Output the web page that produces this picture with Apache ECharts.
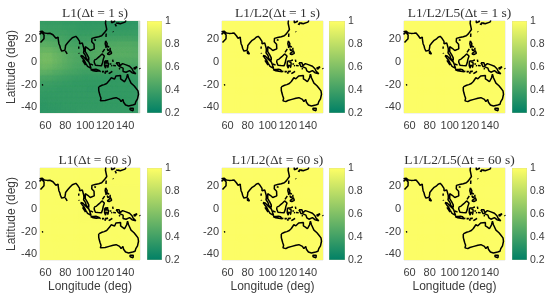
<!DOCTYPE html>
<html><head><meta charset="utf-8">
<style>html,body{margin:0;padding:0;background:#fff}#c{width:550px;height:298px;filter:blur(0.5px)}</style>
<script src="https://cdn.jsdelivr.net/npm/echarts@6/dist/echarts.min.js"></script>
</head><body><div id="c"></div>
<script>
const titles = ['L1(Δt = 1 s)','L1/L2(Δt = 1 s)','L1/L2/L5(Δt = 1 s)','L1(Δt = 60 s)','L1/L2(Δt = 60 s)','L1/L2/L5(Δt = 60 s)'];
const lonTicks = [60,80,100,120,140];
const latTicks = [-40,-20,0,20];
const barTicks = [0.2,0.4,0.6,0.8,1];
const summerColors = ['#008066','#ffff66'];

const field1 = [
[.38,.38,.38,.38,.38,.37,.37,.37,.37,.36,.36,.36,.36,.36,.35,.35,.35,.35,.35,.35],
[.39,.39,.39,.39,.39,.38,.38,.38,.37,.37,.37,.37,.37,.37,.36,.36,.36,.36,.36,.36],
[.41,.41,.41,.40,.40,.40,.39,.39,.38,.38,.38,.39,.39,.39,.38,.38,.38,.38,.38,.38],
[.44,.44,.44,.43,.43,.42,.41,.40,.40,.40,.40,.41,.41,.41,.41,.41,.41,.41,.41,.40],
[.48,.49,.48,.47,.45,.44,.43,.42,.42,.42,.43,.44,.45,.45,.45,.45,.46,.46,.46,.45],
[.52,.53,.53,.51,.49,.47,.45,.44,.44,.44,.45,.46,.47,.47,.48,.48,.48,.48,.48,.47],
[.55,.57,.57,.54,.52,.50,.47,.46,.45,.45,.46,.47,.48,.48,.49,.49,.49,.49,.49,.48],
[.56,.58,.58,.55,.53,.50,.48,.46,.45,.45,.45,.46,.46,.46,.47,.47,.47,.47,.47,.46],
[.54,.56,.55,.53,.51,.49,.47,.45,.44,.44,.43,.43,.43,.44,.44,.44,.44,.44,.44,.43],
[.50,.51,.50,.48,.47,.45,.44,.43,.42,.41,.41,.41,.41,.41,.41,.41,.41,.41,.41,.40],
[.44,.44,.44,.43,.42,.41,.40,.39,.39,.38,.38,.38,.38,.38,.38,.38,.38,.38,.38,.38],
[.40,.40,.40,.39,.39,.38,.38,.37,.37,.37,.37,.37,.37,.37,.37,.37,.37,.37,.37,.37],
[.38,.38,.38,.38,.37,.37,.37,.37,.37,.37,.36,.36,.37,.37,.37,.37,.37,.37,.37,.37],
[.37,.37,.37,.37,.37,.37,.37,.37,.37,.37,.37,.37,.37,.37,.37,.37,.37,.37,.37,.37],
[.36,.36,.37,.37,.37,.37,.37,.37,.37,.37,.37,.37,.37,.37,.37,.37,.37,.37,.37,.37],
[.35,.35,.36,.36,.36,.37,.37,.37,.37,.37,.37,.37,.37,.37,.37,.37,.37,.37,.37,.37],
[.34,.35,.35,.35,.36,.36,.36,.36,.37,.37,.37,.37,.37,.37,.37,.37,.37,.37,.37,.37]
];
const field2 = [[.99,.99,.99,.99,.99],[.99,.99,.99,.99,.99],[.99,.99,.99,.99,.99],[.99,.99,.99,.99,.99],[.99,.99,.99,.99,.99]];
const field3 = [[.99,.99,.99,.99,.99],[.99,.99,.99,.99,.99],[.99,.99,.99,.99,.99],[.99,.99,.99,.99,.99],[.99,.99,.99,.99,.99]];
const field4 = [
[.985,.985,.985,.985,.985],
[.985,.985,.98,.98,.98],
[.985,.985,.98,.98,.98],
[.985,.985,.985,.985,.985],
[.985,.985,.985,.985,.985]
];
const field5 = [[.99,.99,.99,.99,.99],[.99,.99,.99,.99,.99],[.99,.99,.99,.99,.99],[.99,.99,.99,.99,.99],[.99,.99,.99,.99,.99]];
const field6 = [[.99,.99,.99,.99,.99],[.99,.99,.99,.99,.99],[.99,.99,.99,.99,.99],[.99,.99,.99,.99,.99],[.99,.99,.99,.99,.99]];
const fields = [field1,field2,field3,field4,field5,field6];

const asiaCoast = [[54,26.6],[55.5,26.8],[56.5,27.1],[57,26],[57.3,25.7],[59,25.4],[61.5,25.1],[64.5,25.2],[66.5,25.4],[67.5,23.9],[68.8,23],[69,22.3],[70.5,20.8],[72.2,21],[72.7,21.8],[72.8,20],[72.9,18.9],[73.5,16],[74.5,14],[75,12],[76.3,9.5],[77.5,8.1],[78.2,9],[79.5,10.3],[80,12.5],[80.2,14.5],[81,16],[82.3,16.8],[84.5,19],[86.5,20],[87,21.3],[88.5,21.7],[90.5,22.5],[91.8,22.4],[92.5,20.5],[94.3,18],[94.3,16],[95.5,15.8],[97,16.7],[97.7,15],[98.5,12],[98.6,10],[98.3,8],[99.5,6.5],[100.3,5.5],[101,3],[103.5,1.3],[104.2,1.4],[103.5,3.5],[103.4,5],[102,6.2],[100.8,7],[100,9],[99.3,10.5],[100,13.4],[101,12.7],[102.5,12],[103.5,10.6],[105,10],[104.8,8.7],[106.7,10],[109,11.5],[109.3,13],[108.8,15.5],[106.5,17.7],[105.7,19],[106.7,20.7],[108.2,21.6],[109.8,21.4],[110.4,20.4],[110.5,21.2],[113.5,22.2],[116.5,23],[118.5,24.7],[120,26.5],[121.6,28.5],[122,30],[121,31],[121.8,31.7],[120.3,34],[119.3,35],[120.5,36],[121,36.5]];
const omanCoast = [[54,24.2],[55.5,25.4],[56.3,26],[56.4,24.9],[58.6,23.6],[59.8,22.5],[58.5,20.4],[57.8,19],[55,17]];
const mauritius = [[56.4,-20.4],[57.7,-20.2],[58.3,-20.5]];
const sriLanka = [[80,9.7],[81.3,8.5],[81.8,7],[80.6,6],[79.8,7.5],[80,9.7]];
const andaman = [[93.5,13.5],[93.4,11.5]];
const nicobar = [[93.6,8],[93.8,7.2]];
const hainan = [[109,19.5],[110.5,20],[110.8,19],[109.5,18.2],[108.7,18.7],[109,19.5]];
const taiwan = [[121,25],[122,24.6],[120.8,22],[120.1,23.2],[121,25]];
const korea = [[126.3,36.5],[126.5,34.5],[128,34.8],[129.4,35.5],[129.5,36.5]];
const kyushu = [[130,33.4],[131,33.9],[132,33],[131.2,31.3],[130.3,31.3],[130,33.4]];
const honshu = [[131,34.3],[133,34.3],[135.2,33.6],[137,34.6],[140,35],[141,36.5]];
const shikoku = [[132.5,33.8],[134.5,34.3],[134.2,33.4],[133,32.8],[132.5,33.8]];
const ryukyu = [[127.7,26.8],[128.3,26.3]];
const luzon = [[120.5,18.5],[122.2,18.5],[122,16],[121.7,14.2],[124,13],[123,13],[120.7,13.8],[120,16],[120.5,18.5]];
const mindoro = [[120.4,13.4],[121.4,13.2],[121.2,12.3],[120.4,13.4]];
const samar = [[125,12.5],[125.5,11],[125,10],[124.3,11],[125,12.5]];
const panay = [[122,11.8],[123,11],[123,9.5],[122.3,10],[122,11.8]];
const cebu = [[123.4,11.2],[124,10.4],[123.4,9.6],[123.4,11.2]];
const palawan = [[117.2,8.4],[119.5,11.3],[119,10],[117.2,8.4]];
const mindanao = [[122,7],[123.5,8.6],[125.5,9.7],[126.5,7.5],[125.5,5.8],[124,6.5],[122,7]];
const borneo = [[109,1.5],[109.6,2],[111.3,2.5],[113,3.2],[114,4.6],[115.5,5.5],[116.8,7],[117.7,6],[119.2,5.2],[118,4.3],[117.6,3.5],[118,2],[119,1],[117.5,0.5],[117.4,-0.8],[116.5,-1.5],[116.2,-3.5],[114.7,-4.1],[113,-3.2],[111.7,-3.3],[110.2,-2.9],[110,-1.4],[109,-0.3],[109,1.5]];
const sumatra = [[95.3,5.6],[97.5,5.2],[100.3,2.5],[103.5,0],[104.5,-2],[106,-3],[105.8,-5.8],[104.5,-5.8],[102.3,-4],[100.5,-1.2],[98.7,1.7],[97,3.5],[95.3,5.6]];
const nias = [[97.2,1.4],[98,0.6],[99,-1],[100.3,-2.9]];
const bangka = [[105.2,-1.8],[106.7,-3],[107.8,-2.9]];
const java = [[105.3,-6.8],[106.7,-6],[108.5,-6.6],[110.7,-6.5],[112.7,-6.9],[114.5,-7.8],[114.4,-8.7],[111,-8.3],[108,-7.8],[105.3,-6.8]];
const bali = [[114.6,-8.2],[115.6,-8.4],[115.2,-8.8],[114.6,-8.2]];
const sumbawa = [[116.8,-8.5],[119,-8.4],[118.8,-8.8],[116.8,-9],[116.8,-8.5]];
const flores = [[119.9,-8.5],[122.9,-8.2],[122.7,-8.7],[120,-8.9],[119.9,-8.5]];
const sumba = [[119.2,-9.6],[120.8,-10],[119.8,-9.9],[119.2,-9.6]];
const timor = [[123.5,-10.3],[125,-9],[127.2,-8.4],[125,-9.6],[123.5,-10.3]];
const sulawesi = [[119.8,0.8],[120.9,1.3],[123,0.95],[125,1.6],[124.3,0.4],[121,0.45],[120.1,-0.8],[121,-1],[123.3,-0.9],[122,-2],[123,-4.3],[122.5,-5],[121.6,-4.7],[121.5,-3.5],[120.9,-2.7],[120.4,-3],[120.4,-5.5],[119.5,-5.5],[119.4,-3.4],[118.9,-2.7],[119.5,-0.8],[119.8,0.8]];
const muna = [[122.4,-4.5],[123.1,-5.2]];
const halmahera = [[127.5,2],[128,1],[128.7,1.5],[128,0],[127.7,-0.8],[127.5,0.8],[127.5,2]];
const sula = [[124.5,-1.8],[126.2,-1.9]];
const seram = [[128,-3.2],[130.8,-3.4],[129.5,-3.4],[128,-3.2]];
const buru = [[126,-3.2],[127.2,-3.5],[126.2,-3.7],[126,-3.2]];
const tanimbar = [[131.2,-7.6],[131.7,-8]];
const aru = [[134.2,-5.5],[134.7,-6.6]];
const newGuinea = [[131,-0.8],[134,-0.8],[135,-3.3],[137.5,-1.5],[141,-2.6],[144.5,-3.8],[147,-6],[148,-8],[150.8,-10.5],[147,-9.5],[144.5,-7.7],[143,-9],[141,-9.1],[139,-8],[138,-8.4],[138.8,-6.8],[138,-5.5],[135,-4.4],[133,-4],[132.8,-2.8],[134,-2.3],[132,-2.2],[131,-0.8]];
const newBritain = [[148.5,-5.6],[152,-4.2],[152,-5.5],[150,-6.3],[148.5,-5.6]];
const bougainville = [[154.6,-5.5],[155.2,-6.2]];
const australia = [[113.5,-22],[114.2,-22],[116.8,-20.6],[119,-20],[121.5,-19],[122.3,-17.5],[123.5,-17.3],[124.5,-16],[126,-14],[128,-14.9],[129.5,-15],[130.8,-12.4],[132.6,-11.4],[135.5,-12],[136.8,-12.3],[135.5,-15],[137.5,-16],[139.5,-17.5],[140.8,-17.4],[141.6,-14],[141.8,-12.5],[142.5,-10.8],[143.5,-14],[145.3,-15],[146,-18.7],[149,-21],[150.8,-23],[153,-25.5],[153.5,-28.5],[152.5,-32.5],[150.8,-35],[150,-37.3],[147.7,-38],[146.3,-39],[143.5,-38.8],[140.5,-38],[138.5,-35.5],[137.8,-35.3],[137.8,-33],[136,-35],[134.5,-33],[131,-31.5],[128,-32],[124,-33],[123.5,-33.9],[120,-34],[118,-35],[115.2,-34.3],[115.8,-32],[115,-30],[114,-27],[113.5,-25],[113.5,-22]];
const tasmania = [[144.7,-40.8],[148.3,-40.9],[148,-43],[146.5,-43.6],[145.2,-42.2],[144.7,-40.8]];

const coastParts = [asiaCoast,omanCoast,mauritius,sriLanka,andaman,nicobar,hainan,taiwan,korea,kyushu,honshu,shikoku,ryukyu,luzon,mindoro,samar,panay,cebu,palawan,mindanao,borneo,sumatra,nias,bangka,java,bali,sumbawa,flores,sumba,timor,sulawesi,muna,halmahera,sula,seram,buru,tanimbar,aru,newGuinea,newBritain,bougainville,australia,tasmania];
const coast = [];
coastParts.forEach(p=>{p.forEach(q=>coast.push(q));coast.push(['-','-']);});

const LON0=54.5, LON1=155, LAT0=-45, LAT1=36;
const panelX=[[40,140,147,162],[222,323,329,345],[404,505,512,527]];
const panelY=[[21,113],[168,260]];
const cellData = rows => {
  const nr=rows.length,nc=rows[0].length,out=[];
  const dLon=(nc===20?5:(LON1-LON0+1)/nc), dLat=(nr===17?5:(LAT1-LAT0+1)/nr);
  rows.forEach((r,i)=>r.forEach((v,j)=>{
    const lon=nc===20?55+j*5:LON0+dLon*(j+.5), lat=nr===17?35-i*5:LAT1-dLat*(i+.5);
    out.push([lon,lat,v,dLon,dLat]);
  }));
  return out;
};
const sans='"Liberation Sans"', txt='#3c3c3c';
const grid=[],xAxis=[],yAxis=[],series=[],title=[];
fields.forEach((f,k)=>{
  const col=k%3,row=Math.floor(k/3),[x0,x1,b0,b1]=panelX[col],[y0,y1]=panelY[row];
  grid.push({left:x0,width:x1-x0,top:y0,height:y1-y0,show:true,backgroundColor:'transparent',borderColor:'#c8c8b0',borderWidth:.5,containLabel:false});
  grid.push({left:b0,width:b1-b0,top:y0,height:y1-y0,show:false});
  title.push({text:titles[k],left:(x0+x1)/2,textAlign:'center',top:y0-20,textStyle:{fontFamily:'"Liberation Serif"',fontSize:13.5,fontWeight:'normal',color:'#333'}});
  const gi=k*2;
  xAxis.push({gridIndex:gi,type:'value',min:LON0,max:LON1,splitLine:{show:false},axisLine:{show:false},
    axisTick:{show:false,customValues:lonTicks},
    axisLabel:{customValues:lonTicks,color:txt,fontFamily:sans,fontSize:11,margin:7,hideOverlap:false,showMinLabel:true,showMaxLabel:true},
    name:row===1?'Longitude (deg)':'',nameLocation:'middle',nameGap:21,nameTextStyle:{color:txt,fontFamily:sans,fontSize:12}});
  yAxis.push({gridIndex:gi,type:'value',min:LAT0,max:LAT1,splitLine:{show:false},axisLine:{show:false},
    axisTick:{show:false,customValues:latTicks},
    axisLabel:{customValues:latTicks,color:txt,fontFamily:sans,fontSize:11,margin:3},
    name:col===0?'Latitude (deg)':'',nameLocation:'middle',nameGap:21,nameTextStyle:{color:txt,fontFamily:sans,fontSize:12}});
  xAxis.push({gridIndex:gi+1,type:'value',min:0,max:1,show:false});
  yAxis.push({gridIndex:gi+1,type:'value',position:'right',min:0.2,max:1,interval:0.2,splitLine:{show:false},
    axisLine:{show:false},axisTick:{show:false},
    axisLabel:{color:txt,fontFamily:sans,fontSize:10.5,margin:3,formatter:v=>String(+v.toFixed(1))}});
  series.push({type:'custom',xAxisIndex:gi,yAxisIndex:gi,clip:true,z:1,
    data:cellData(f),encode:{x:0,y:1},silent:true,
    renderItem:(p,api)=>{
      const a=api.coord([api.value(0)-api.value(3)/2,api.value(1)+api.value(4)/2]);
      const b=api.coord([api.value(0)+api.value(3)/2,api.value(1)-api.value(4)/2]);
      const c=api.visual('color');
      return {type:'rect',shape:{x:a[0]-.5,y:a[1]-.5,width:b[0]-a[0]+1,height:b[1]-a[1]+1},style:{fill:c,shadowBlur:6,shadowColor:c}};
    }});
  series.push({type:'line',xAxisIndex:gi,yAxisIndex:gi,data:coast,clip:true,z:2,symbol:'none',silent:true,connectNulls:false,
    lineStyle:{color:'#000',width:1.5}});
  series.push({type:'custom',xAxisIndex:gi+1,yAxisIndex:gi+1,clip:true,z:1,silent:true,data:[[0,0.2,1,1]],encode:{x:0,y:1},
    renderItem:(p,api)=>{
      const a=api.coord([0,1]),b=api.coord([1,0.2]);
      return {type:'rect',shape:{x:a[0],y:a[1],width:b[0]-a[0],height:b[1]-a[1]},
        style:{stroke:'#c8c8a0',lineWidth:.5,fill:new echarts.graphic.LinearGradient(0,1,0,0,[{offset:0,color:summerColors[0]},{offset:1,color:summerColors[1]}])}};
    }});
});
const chart=echarts.init(document.getElementById('c'),null,{renderer:'canvas'});
chart.setOption({animation:false,backgroundColor:'#fff',title,grid,xAxis,yAxis,series,
  visualMap:[{show:false,type:'continuous',min:0.2,max:1,dimension:2,seriesIndex:series.map((s,i)=>i%3===0?i:-1).filter(i=>i>=0),inRange:{color:summerColors}}]});
</script></body></html>
